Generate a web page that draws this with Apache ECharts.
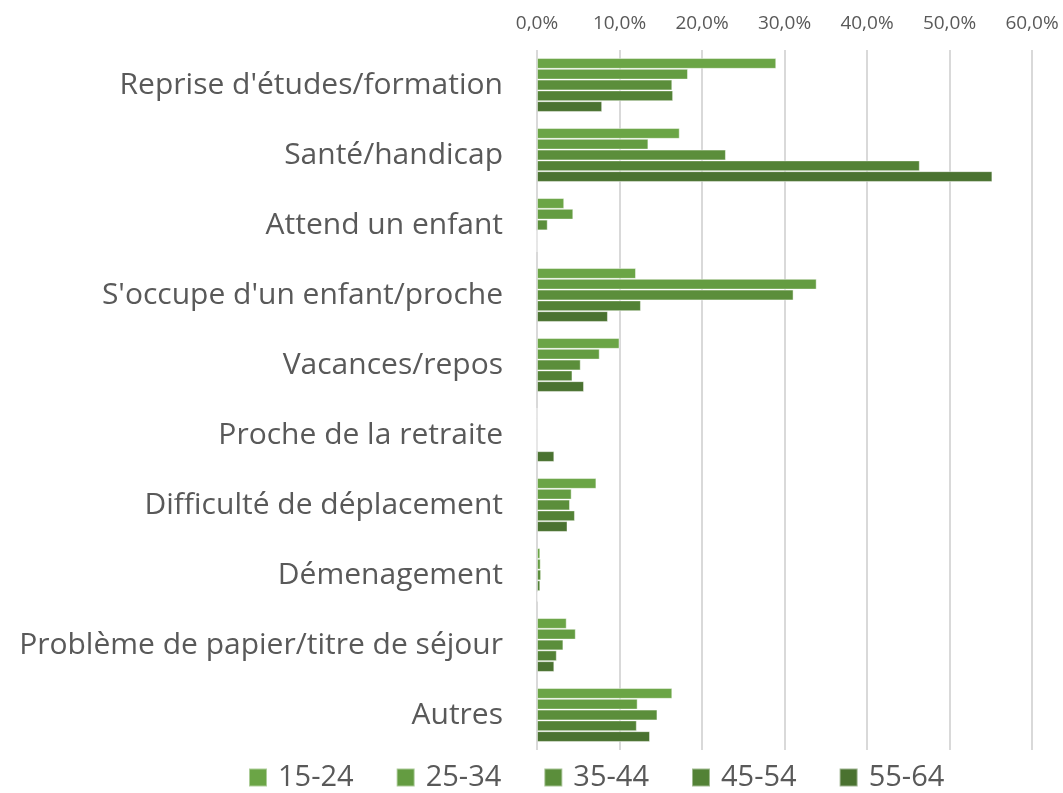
<!DOCTYPE html>
<html>
<head>
<meta charset="utf-8">
<script src="https://cdn.jsdelivr.net/npm/echarts@6/dist/echarts.min.js"></script>
<style>
  html, body { margin: 0; padding: 0; background: #fff; }
  #chart { width: 1063px; height: 793px; }
</style>
</head>
<body>
<div id="chart"></div>
<script>
// motifs
const categories = [
    "Reprise d'études/formation",
    'Santé/handicap',
    'Attend un enfant',
    "S'occupe d'un enfant/proche",
    'Vacances/repos',
    'Proche de la retraite',
    'Difficulté de déplacement',
    'Démenagement',
    'Problème de papier/titre de séjour',
    'Autres'
];

const ageGroups = ['15-24', '25-34', '35-44', '45-54', '55-64'];

// % par tranche d'âge
const v15_24 = [29.0, 17.3, 3.3, 12.0, 10.0, 0, 7.2, 0.4, 3.6, 16.4];
const v25_34 = [18.3, 13.5, 4.4, 33.9, 7.6, 0, 4.2, 0.45, 4.7, 12.2];
const v35_44 = [16.4, 22.9, 1.3, 31.1, 5.3, 0, 4.0, 0.5, 3.2, 14.6];
const v45_54 = [16.5, 46.4, 0, 12.6, 4.3, 0, 4.6, 0.4, 2.4, 12.1];
const v55_64 = [7.9, 55.2, 0, 8.6, 5.7, 2.1, 3.7, 0.1, 2.1, 13.7];

const colors = ['#6ba546', '#649c41', '#5b8e3b', '#538236', '#4a7230'];

let values = [v15_24, v25_34, v35_44, v45_54, v55_64];
let textColor = '#595959';
let font = '"Open Sans", sans-serif';

let myChart = echarts.init(document.getElementById('chart'));
myChart.setOption({
    animation: false,
    color: colors,
    grid: {
        left: 537,
        right: 31,
        top: 50,
        height: 700
    },
    legend: {
        top: 763,
        left: 248,
        padding: 0,
        itemWidth: 18,
        itemHeight: 18,
        itemGap: 42,
        icon: 'rect',
        textStyle: { fontSize: 29, color: textColor, fontFamily: font, padding: [0, 0, 0, 6] },
        data: ageGroups
    },
    xAxis: {
        type: 'value',
        position: 'top',
        min: 0,
        max: 60,
        interval: 10,
        axisLine: { show: false },
        axisTick: { show: false },
        axisLabel: {
            fontSize: 19,
            color: textColor,
            fontFamily: font,
            margin: 17,
            formatter: (v) => v.toFixed(1).replace('.', ',') + '%'
        },
        splitLine: { lineStyle: { color: '#d9d9d9', width: 2 } }
    },
    yAxis: {
        type: 'category',
        inverse: true,
        data: categories,
        axisLine: { show: false },
        axisTick: { show: false },
        axisLabel: {
            fontSize: 30,
            color: textColor,
            fontFamily: font,
            margin: 34
        }
    },
    series: ageGroups.map((name, i) => ({
        name: name,
        type: 'bar',
        data: values[i],
        barGap: '0%',
        barCategoryGap: '23%',
        itemStyle: {
            color: colors[i],
            borderColor: 'rgba(255,255,255,0.45)',
            borderWidth: 1
        }
    }))
});
</script>
</body>
</html>
